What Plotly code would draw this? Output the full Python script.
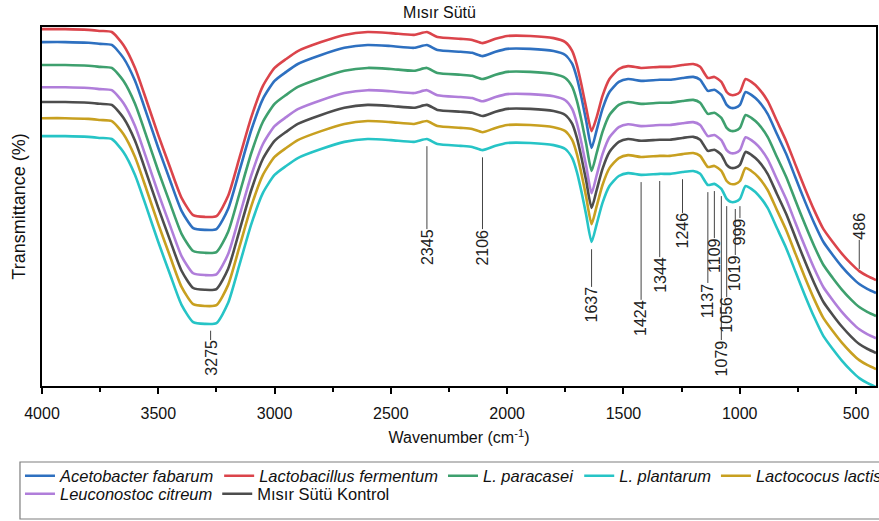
import numpy as np
import plotly.graph_objects as go

# FTIR spectra of fermented corn milk ("Mısır Sütü") samples
wavenumber = [4000, 3900, 3800, 3750, 3700, 3650, 3600, 3550, 3500, 3450,
              3400, 3350, 3300, 3250, 3200, 3150, 3100, 3050, 3000, 2950,
              2900, 2800, 2700, 2600, 2500, 2400, 2345, 2300, 2200, 2150,
              2106, 2050, 2000, 1900, 1800, 1750, 1720, 1700, 1680, 1660,
              1637, 1615, 1590, 1560, 1520, 1480, 1424, 1344, 1300, 1246,
              1200, 1170, 1137, 1109, 1079, 1056, 1040, 1019, 999, 975,
              950, 920, 880, 840, 800, 760, 720, 680, 640, 600,
              560, 520, 486, 450, 414]

acetobacter_fabarum = [95.8, 95.8, 95.6, 95.3, 95.0, 91.4, 85.0, 75.8, 66.3, 57.4,
                       48.8, 44.0, 43.5, 43.7, 49.3, 60.2, 71.3, 80.0, 85.0, 87.5,
                       89.7, 92.2, 94.2, 95.0, 94.7, 94.2, 95.0, 93.6, 93.1, 92.8,
                       91.9, 93.1, 93.9, 93.9, 93.3, 92.2, 89.7, 85.8, 80.2, 73.8,
                       66.3, 71.3, 77.2, 81.9, 84.7, 85.5, 85.0, 85.3, 85.3, 85.8,
                       86.1, 85.3, 82.2, 82.5, 81.1, 78.3, 77.5, 77.5, 78.3, 81.9,
                       81.1, 79.4, 75.8, 70.2, 64.6, 58.0, 51.5, 45.4, 40.1, 36.5,
                       33.2, 30.4, 28.4, 27.0, 25.9]

lactobacillus_fermentum = [99.4, 99.4, 99.2, 98.9, 98.6, 95.0, 88.6, 79.4, 69.9, 61.0,
                           52.4, 47.6, 47.1, 47.3, 52.9, 63.8, 74.9, 83.6, 88.6, 91.1,
                           93.3, 95.8, 97.8, 98.6, 98.3, 97.8, 98.6, 97.2, 96.7, 96.4,
                           95.5, 96.7, 97.5, 97.5, 96.9, 95.8, 93.3, 89.4, 83.8, 77.4,
                           71.0, 74.9, 80.8, 85.5, 88.3, 89.1, 88.6, 88.9, 88.9, 89.4,
                           89.7, 88.9, 85.8, 86.1, 84.7, 81.9, 81.1, 81.1, 81.9, 85.5,
                           84.7, 83.0, 79.4, 73.8, 68.2, 61.6, 55.1, 49.0, 43.7, 40.1,
                           36.8, 34.0, 32.0, 30.6, 29.5]

l_paracasei = [89.4, 89.4, 89.2, 88.9, 88.6, 85.0, 78.6, 69.4, 59.9, 51.0,
               42.4, 37.6, 37.1, 37.3, 42.9, 53.8, 64.9, 73.6, 78.6, 81.1,
               83.3, 85.8, 87.8, 88.6, 88.3, 87.8, 88.6, 87.2, 86.7, 86.4,
               85.5, 86.7, 87.5, 87.5, 86.9, 85.8, 83.3, 79.4, 73.8, 67.4,
               59.9, 64.9, 70.8, 75.5, 78.3, 79.1, 78.6, 78.9, 78.9, 79.4,
               79.7, 78.9, 75.8, 76.1, 74.7, 71.9, 71.1, 71.1, 71.9, 75.5,
               74.7, 73.0, 69.4, 63.8, 58.2, 51.6, 45.1, 39.0, 33.7, 30.1,
               26.8, 24.0, 22.0, 20.6, 19.5]

l_plantarum = [69.6, 69.6, 69.4, 69.1, 68.8, 65.2, 58.8, 49.6, 40.1, 31.2,
               22.6, 17.8, 17.3, 17.5, 23.1, 34.0, 45.1, 53.8, 58.8, 61.3,
               63.5, 66.0, 68.0, 68.8, 68.5, 68.0, 68.8, 67.4, 66.9, 66.6,
               65.7, 66.9, 67.7, 67.7, 67.1, 66.0, 63.5, 59.6, 54.0, 47.6,
               40.1, 45.1, 51.0, 55.7, 58.5, 59.3, 58.8, 59.1, 59.1, 59.6,
               59.9, 59.1, 56.0, 56.3, 54.9, 52.1, 51.3, 51.3, 52.1, 55.7,
               54.9, 53.2, 49.6, 44.0, 38.4, 31.8, 25.3, 19.2, 13.9, 10.3,
               7.0, 4.2, 2.2, 0.8, -0.3]

lactococus_lactis = [74.6, 74.6, 74.4, 74.1, 73.8, 70.2, 63.8, 54.6, 45.1, 36.2,
                     27.6, 22.8, 22.3, 22.5, 28.1, 39.0, 50.1, 58.8, 63.8, 66.3,
                     68.5, 71.0, 73.0, 73.8, 73.5, 73.0, 73.8, 72.4, 71.9, 71.6,
                     70.7, 71.9, 72.7, 72.7, 72.1, 71.0, 68.5, 64.6, 59.0, 52.6,
                     45.1, 50.1, 56.0, 60.7, 63.5, 64.3, 63.8, 64.1, 64.1, 64.6,
                     64.9, 64.1, 61.0, 61.3, 59.9, 57.1, 56.3, 56.3, 57.1, 60.7,
                     59.9, 58.2, 54.6, 49.0, 43.4, 36.8, 30.3, 24.2, 18.9, 15.3,
                     12.0, 9.2, 7.2, 5.8, 4.7]

leuconostoc_citreum = [83.2, 83.2, 83.0, 82.7, 82.4, 78.8, 72.4, 63.2, 53.7, 44.8,
                       36.2, 31.4, 30.9, 31.1, 36.7, 47.6, 58.7, 67.4, 72.4, 74.9,
                       77.1, 79.6, 81.6, 82.4, 82.1, 81.6, 82.4, 81.0, 80.5, 80.2,
                       79.3, 80.5, 81.3, 81.3, 80.7, 79.6, 77.1, 73.2, 67.6, 61.2,
                       53.7, 58.7, 64.6, 69.3, 72.1, 72.9, 72.4, 72.7, 72.7, 73.2,
                       73.5, 72.7, 69.6, 69.9, 68.5, 65.7, 64.9, 64.9, 65.7, 69.3,
                       68.5, 66.8, 63.2, 57.6, 52.0, 45.4, 38.9, 32.8, 27.5, 23.9,
                       20.6, 17.8, 15.8, 14.4, 13.3]

misir_sutu_kontrol = [79.1, 79.1, 78.9, 78.6, 78.3, 74.7, 68.3, 59.1, 49.6, 40.7,
                      32.1, 27.3, 26.8, 27.0, 32.6, 43.5, 54.6, 63.3, 68.3, 70.8,
                      73.0, 75.5, 77.5, 78.3, 78.0, 77.5, 78.3, 76.9, 76.4, 76.1,
                      75.2, 76.4, 77.2, 77.2, 76.6, 75.5, 73.0, 69.1, 63.5, 57.1,
                      49.6, 54.6, 60.5, 65.2, 68.0, 68.8, 68.3, 68.6, 68.6, 69.1,
                      69.4, 68.6, 65.5, 65.8, 64.4, 61.6, 60.8, 60.8, 61.6, 65.2,
                      64.4, 62.7, 59.1, 53.5, 47.9, 41.3, 34.8, 28.7, 23.4, 19.8,
                      16.5, 13.7, 11.7, 10.3, 9.2]

# band positions marked on the spectra
peak_positions = [3275, 2345, 2106, 1637, 1424, 1344, 1246, 1137, 1109, 1079,
                  1056, 1019, 999, 486]

x_tick_values = [4000, 3500, 3000, 2500, 2000, 1500, 1000, 500]

FONT = "Liberation Sans, Arial, sans-serif"

series = [
    ("<i>Acetobacter fabarum</i>", acetobacter_fabarum, "#2e70c0", "legend"),
    ("<i>Lactobacillus fermentum</i>", lactobacillus_fermentum, "#db444b", "legend"),
    ("<i>L. paracasei</i>", l_paracasei, "#3ea06e", "legend"),
    ("<i>L. plantarum</i>", l_plantarum, "#26c4c6", "legend"),
    ("<i>Lactococus lactis</i>", lactococus_lactis, "#c8a020", "legend"),
    ("<i>Leuconostoc citreum</i>", leuconostoc_citreum, "#b07eda", "legend2"),
    ("Mısır Sütü Kontrol", misir_sutu_kontrol, "#4d4d4d", "legend2"),
]

fig = go.Figure()
for name, values, color, leg in series:
    fig.add_trace(go.Scatter(
        x=wavenumber, y=values, name=name, mode="lines",
        line=dict(color=color, width=2.6, shape="spline", smoothing=0.6),
        legend=leg,
    ))

# leader lines and rotated band labels
label_end = {3275: 12.8, 2345: 43.7, 2106: 43.7, 1637: 27.6, 1424: 24.0,
             1344: 35.9, 1246: 48.2, 1137: 28.7, 1109: 41.2, 1079: 12.8,
             1056: 24.8, 1019: 36.5, 999: 46.8, 486: 40.7}
wn_inc = wavenumber[::-1]
for w in peak_positions:
    if w == 486:
        y_start = float(np.interp(w, wn_inc, lactobacillus_fermentum[::-1])) + 0.6
        anchor = "bottom"
    else:
        y_start = float(np.interp(w, wn_inc, l_plantarum[::-1])) - 2.0
        anchor = "top"
    y_end = label_end[w]
    fig.add_shape(type="line", xref="x", yref="y", x0=w, x1=w, y0=y_start, y1=y_end,
                  line=dict(color="#444444", width=1))
    fig.add_annotation(x=w, y=y_end, xref="x", yref="y", text=str(w), textangle=-90,
                       showarrow=False, xanchor="center", yanchor=anchor,
                       borderpad=0, borderwidth=0,
                       font=dict(family=FONT, size=16, color="#222222"))

# frame around the legend rows
fig.add_shape(type="rect", xref="paper", yref="paper",
              x0=-0.0264, x1=1.2, y0=-0.3705, y1=-0.2117,
              line=dict(color="#7f7f7f", width=1.2), fillcolor="rgba(0,0,0,0)")

legend_common = dict(orientation="h", xanchor="left", yanchor="middle",
                     x=-0.0264, bgcolor="rgba(0,0,0,0)", borderwidth=0,
                     font=dict(family=FONT, size=16.5, color="#111111"),
                     itemwidth=30)

fig.update_layout(
    width=879, height=521,
    margin=dict(l=42, r=3, t=27, b=135, autoexpand=False),
    paper_bgcolor="white", plot_bgcolor="white",
    font=dict(family=FONT, color="#111111"),
    title=dict(text="Mısır Sütü", x=0.5, xref="container", xanchor="center",
               y=1 - 12 / 521, yref="container", yanchor="middle",
               font=dict(family=FONT, size=16, color="#111111")),
    showlegend=True,
    legend=dict(legend_common, y=-0.2507),
    legend2=dict(legend_common, y=-0.3008),
    xaxis=dict(
        range=[4000, 414], tickmode="array", tickvals=x_tick_values,
        ticktext=[str(v) for v in x_tick_values],
        ticks="outside", ticklen=6, tickwidth=1.5, tickcolor="black",
        minor=dict(dtick=250, tick0=0, ticks="outside", ticklen=4,
                   tickwidth=1.5, tickcolor="black"),
        showline=True, linecolor="black", linewidth=2, mirror=True,
        showgrid=False, zeroline=False, ticklabelstandoff=6,
        tickfont=dict(family=FONT, size=16, color="#111111"),
        title=dict(text="Wavenumber (cm<sup>-1</sup>)", standoff=11,
                   font=dict(family=FONT, size=16, color="#111111")),
    ),
    yaxis=dict(
        range=[0, 100], showticklabels=False, ticks="",
        showline=True, linecolor="black", linewidth=2, mirror=True,
        showgrid=False, zeroline=False,
        title=dict(text="Transmittance (%)", standoff=10,
                   font=dict(family=FONT, size=18, color="#111111")),
    ),
)

fig.write_html("out.html")
